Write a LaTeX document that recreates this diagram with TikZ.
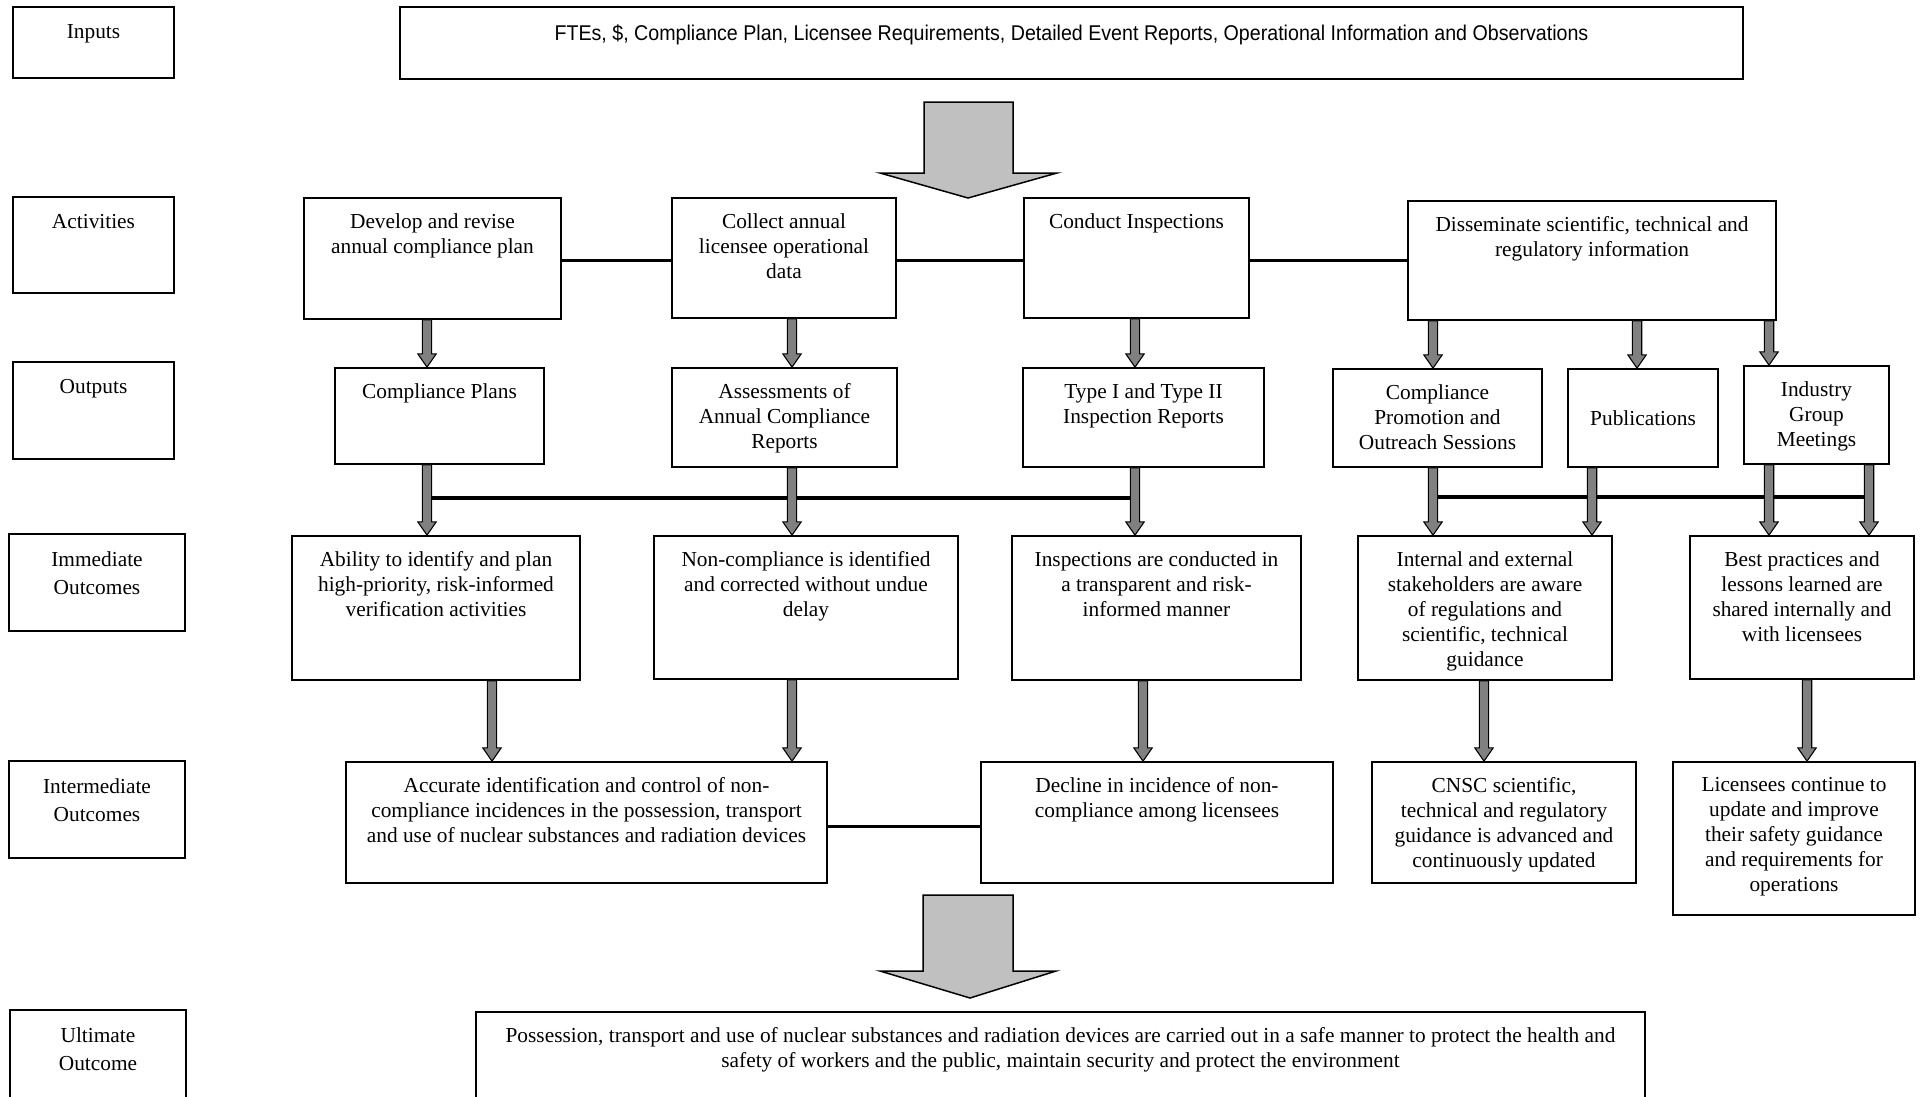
\documentclass[tikz,border=0pt]{standalone}
\usepackage{fontspec}
\setmainfont{Liberation Serif}
\newfontfamily\narrowsans[FakeStretch=0.92]{Liberation Sans}
\usetikzlibrary{fit,calc}

\definecolor{arrowgray}{RGB}{128,128,128}
\definecolor{biggray}{RGB}{192,192,192}

\tikzset{
  lbl/.style={anchor=north, align=center, inner sep=0pt, yshift=-7.5pt, font=\fontsize{10}{11.7}\selectfont},
  box/.style 2 args={draw, line width=0.8pt, inner sep=0pt, fit={#1}, label={[lbl]north:{#2}}},
  title/.style 2 args={draw, line width=0.8pt, inner sep=0pt, fit={#1}, label={[lbl, yshift=-0.8pt, font=\fontsize{10}{13.4}\selectfont]north:{#2}}},
  mbox/.style 2 args={draw, line width=0.8pt, inner sep=0pt, fit={#1}, label={[lbl, yshift=-12pt]north:{#2}}},
  link/.style={line width=1.5pt},
  garrow/.style={draw, line width=0.5pt, fill=arrowgray, to path={
    ([xshift=-2.2pt]\tikztostart) -- ([xshift=-2.2pt,yshift=6.2pt]\tikztotarget)
    -- ([xshift=-4.3pt,yshift=6.2pt]\tikztotarget) -- (\tikztotarget)
    -- ([xshift=4.3pt,yshift=6.2pt]\tikztotarget) -- ([xshift=2.2pt,yshift=6.2pt]\tikztotarget)
    -- ([xshift=2.2pt]\tikztostart) -- cycle}},
  bigarrow/.style={draw, line width=0.7pt, fill=biggray},
}

\begin{document}
\begin{tikzpicture}[x=0.4684pt, y=-0.4684pt]
\useasboundingbox (0,0) rectangle (1925,1096);

% row titles
\node[title={(13,7) (174,78)}{Inputs}] (inp) {};
\node[title={(13,197) (174,293)}{Activities}] (act) {};
\node[title={(13,362) (174,459)}{Outputs}] (out) {};
\node[title={(9,534) (185,631)}{Immediate\\Outcomes}] (imm) {};
\node[title={(9,761) (185,858)}{Intermediate\\Outcomes}] (int) {};
\node[title={(10,1010) (186,1110)}{Ultimate\\Outcome}] (ult) {};

% inputs
\node[title={(400,7) (1743,79)}{\narrowsans FTEs, \$, Compliance Plan, Licensee Requirements, Detailed Event Reports, Operational Information and Observations}] (fte) {};

% activities
\node[box={(304,198) (561,319)}{Develop and revise\\annual compliance plan}] (dev) {};
\node[box={(672,198) (896,318)}{Collect annual\\licensee operational\\data}] (col) {};
\node[box={(1024,198) (1249,318)}{Conduct Inspections}] (con) {};
\node[box={(1408,201) (1776,320)}{Disseminate scientific, technical and\\regulatory information}] (dis) {};

% outputs
\node[box={(335,368) (544,464)}{Compliance Plans}] (cpl) {};
\node[box={(672,368) (897,467)}{Assessments of\\Annual Compliance\\Reports}] (ass) {};
\node[box={(1023,368) (1264,467)}{Type I and Type II\\Inspection Reports}] (typ) {};
\node[box={(1333,369) (1542,467)}{Compliance\\Promotion and\\Outreach Sessions}] (cpo) {};
\node[mbox={(1568,369) (1718,467)}{Publications}] (pub) {};
\node[box={(1744,366) (1889,464)}{Industry\\Group\\Meetings}] (ind) {};

% immediate outcomes
\node[box={(292,536) (580,680)}{Ability to identify and plan\\high-priority, risk-informed\\verification activities}] (abi) {};
\node[box={(654,536) (958,679)}{Non-compliance is identified\\and corrected without undue\\delay}] (ncp) {};
\node[box={(1012,536) (1301,680)}{Inspections are conducted in\\a transparent and risk-\\informed manner}] (ins) {};
\node[box={(1358,536) (1612,680)}{Internal and external\\stakeholders are aware\\of regulations and\\scientific, technical\\guidance}] (ise) {};
\node[box={(1690,536) (1914,679)}{Best practices and\\lessons learned are\\shared internally and\\with licensees}] (bpr) {};

% intermediate outcomes
\node[box={(346,762) (827,883)}{Accurate identification and control of non-\\compliance incidences in the possession, transport\\and use of nuclear substances and radiation devices}] (acc) {};
\node[box={(981,762) (1333,883)}{Decline in incidence of non-\\compliance among licensees}] (dec) {};
\node[box={(1372,762) (1636,883)}{CNSC scientific,\\technical and regulatory\\guidance is advanced and\\continuously updated}] (cns) {};
\node[box={(1673,762) (1915,915)}{Licensees continue to\\update and improve\\their safety guidance\\and requirements for\\operations}] (lic) {};

% ultimate outcome
\node[box={(476,1012) (1645,1110)}{Possession, transport and use of nuclear substances and radiation devices are carried out in a safe manner to protect the health and\\safety of workers and the public, maintain security and protect the environment}] (ulo) {};

% big arrows
\draw[bigarrow] (924,102) -- (1013,102) -- (1013,173) -- (1057,173) -- (968,198) -- (880,173) -- (924,173) -- cycle;
\draw[bigarrow] (923,895) -- (1013,895) -- (1013,971) -- (1056,971) -- (970,998) -- (880,971) -- (923,971) -- cycle;

% columns of the small arrows
\coordinate (xa) at (427,0);
\coordinate (xb) at (792,0);
\coordinate (xc) at (1135,0);
\coordinate (xd) at (1433,0);
\coordinate (xe) at (1637,0);
\coordinate (xf) at (1769,0);
\coordinate (xg) at (1592,0);
\coordinate (xh) at (1869,0);
\coordinate (xi) at (492,0);
\coordinate (xj) at (1143,0);
\coordinate (xk) at (1484,0);
\coordinate (xl) at (1807,0);
\coordinate (ja) at (427,498);
\coordinate (jb) at (1135,498);
\coordinate (jc) at (1433,497);
\coordinate (jd) at (1869,497);

% links
\draw[link] ([yshift=-1pt]dev.east) -- ([yshift=-1pt]dev.east -| col.west);
\draw[link] ([yshift=-1pt]col.east) -- ([yshift=-1pt]col.east -| con.west);
\draw[link] ([yshift=-1pt]con.east) -- ([yshift=-1pt]con.east -| dis.west);
\draw[link] ([yshift=-2pt]acc.east) -- ([yshift=-2pt]acc.east -| dec.west);
\draw[link] (ja) -- (jb);
\draw[link] (jc) -- (jd);

% activities -> outputs
\draw[garrow] (dev.south -| xa) to (cpl.north -| xa);
\draw[garrow] (col.south -| xb) to (ass.north -| xb);
\draw[garrow] (con.south -| xc) to (typ.north -| xc);
\draw[garrow] (dis.south -| xd) to (cpo.north -| xd);
\draw[garrow] (dis.south -| xe) to (pub.north -| xe);
\draw[garrow] (dis.south -| xf) to (ind.north -| xf);

% outputs -> immediate
\draw[garrow] (cpl.south -| xa) to (abi.north -| xa);
\draw[garrow] (ass.south -| xb) to (ncp.north -| xb);
\draw[garrow] (typ.south -| xc) to (ins.north -| xc);
\draw[garrow] (cpo.south -| xd) to (ise.north -| xd);
\draw[garrow] (pub.south -| xg) to (ise.north -| xg);
\draw[garrow] (ind.south -| xf) to (bpr.north -| xf);
\draw[garrow] (ind.south -| xh) to (bpr.north -| xh);

% immediate -> intermediate
\draw[garrow] (abi.south -| xi) to (acc.north -| xi);
\draw[garrow] (ncp.south -| xb) to (acc.north -| xb);
\draw[garrow] (ins.south -| xj) to (dec.north -| xj);
\draw[garrow] (ise.south -| xk) to (cns.north -| xk);
\draw[garrow] (bpr.south -| xl) to (lic.north -| xl);
\end{tikzpicture}
\end{document}
